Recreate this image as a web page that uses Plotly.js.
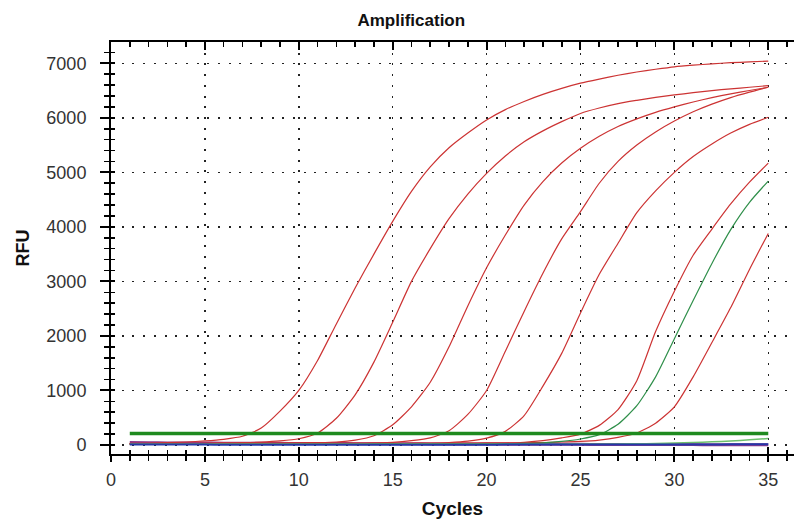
<!DOCTYPE html>
<html>
<head>
<meta charset="utf-8">
<script src="https://cdn.plot.ly/plotly-3.0.1.min.js"></script>
<style>
  html, body { margin: 0; padding: 0; background: #fff; }
  #chart { width: 794px; height: 524px; }
</style>
</head>
<body>
<div id="chart"></div>
<script>
// ---- Data (RFU) ----
var cycles = [1,2,3,4,5,6,7,8,9,10,11,12,13,14,15,16,17,18,19,20,21,22,23,24,25,26,27,28,29,30,31,32,33,34,35];

var sample1 = [30,35,42,55,75,105,160,310,620,1000,1550,2220,2880,3500,4100,4650,5100,5450,5720,5960,6150,6300,6430,6540,6635,6710,6780,6840,6890,6935,6965,6990,7010,7025,7040];
var sample2 = [25,27,29,31,34,38,44,54,75,115,220,490,920,1520,2250,3000,3600,4150,4600,4980,5300,5560,5760,5930,6080,6180,6260,6320,6375,6420,6460,6500,6530,6560,6590];
var sample3 = [20,22,24,26,28,30,32,34,37,40,45,55,90,170,370,700,1150,1800,2550,3250,3850,4400,4830,5170,5440,5660,5840,5980,6100,6200,6290,6370,6440,6500,6560];
var sample4 = [15,16,17,18,19,20,21,22,23,25,27,30,34,40,50,80,130,260,560,1000,1720,2450,3150,3780,4280,4800,5200,5500,5740,5940,6110,6250,6370,6470,6560];
var sample5 = [12,12,13,13,14,14,15,15,16,17,18,19,20,22,24,27,32,45,70,125,250,540,1080,1680,2420,3130,3700,4260,4660,5000,5290,5520,5720,5880,6010];
var sample6 = [20,20,21,21,22,22,22,23,23,24,24,25,25,26,26,27,27,28,29,30,35,50,80,130,200,360,650,1180,2080,2820,3480,3960,4420,4820,5170];
var sample7 = [25,25,26,26,27,27,28,28,29,29,30,30,31,31,32,33,34,35,36,38,39,40,45,55,65,90,140,220,400,700,1250,1880,2520,3220,3880];
var sampleGreen = [15,15,15,16,16,16,16,17,17,17,18,18,18,19,19,19,20,20,21,22,25,30,40,65,110,190,380,720,1250,1950,2650,3330,3950,4450,4840];
var ntcPurple = [45,41,39,37,36,34,33,31,30,28,27,27,25,24,23,22,20,19,19,17,16,15,14,13,12,11,11,9,8,8,7,6,5,5,4];
var ntcBlue = [8,8,7,7,7,6,6,6,6,5,5,5,5,5,5,6,6,6,6,6,7,7,7,7,8,8,8,9,9,10,10,11,12,13,14];
var ntcGreen = [12,12,12,12,12,12,12,12,12,13,13,13,13,13,14,14,14,14,14,15,15,15,16,16,17,18,20,23,28,35,45,58,75,95,120];
var thresholdRFU = 210;

var redSeries = [sample1, sample2, sample3, sample4, sample5, sample6, sample7];

// ---- Traces ----
var traces = [];
function lineTrace(y, color, width, name) {
  return { x: cycles, y: y, type: 'scatter', mode: 'lines', name: name,
           line: { color: color, width: width, shape: 'spline', smoothing: 0.6 },
           hoverinfo: 'skip', showlegend: false };
}
traces.push(lineTrace(ntcPurple, '#8e3a8e', 3, 'NTC purple'));
redSeries.forEach(function (s, i) { traces.push(lineTrace(s, '#cc3333', 1.2, 'Sample ' + (i + 1))); });
traces.push(lineTrace(sampleGreen, '#2f8f4a', 1.2, 'Sample green'));
traces.push(lineTrace(ntcGreen, '#6cbf6c', 1.5, 'NTC green'));
traces.push(lineTrace(ntcBlue, '#2438a8', 2, 'NTC blue'));
traces.push({ x: [cycles[0], cycles[cycles.length - 1]], y: [thresholdRFU, thresholdRFU],
  type: 'scatter', mode: 'lines', line: { color: '#1e8a1e', width: 3.5 }, hoverinfo: 'skip', showlegend: false, name: 'Threshold' });
// empty traces so that the overlay tick axes are drawn
traces.push({ x: [], y: [], xaxis: 'x2', yaxis: 'y', type: 'scatter', showlegend: false, hoverinfo: 'skip' });
traces.push({ x: [], y: [], xaxis: 'x3', yaxis: 'y2', type: 'scatter', showlegend: false, hoverinfo: 'skip' });

var xRange = [0, 36.37];
var yRange = [-165, 7390];
var gridDash = '2px,8.7px';

var layout = {
  width: 794, height: 524,
  margin: { l: 111, r: 0, t: 42, b: 70, pad: 0 },
  paper_bgcolor: '#ffffff', plot_bgcolor: '#ffffff',
  showlegend: false,
  font: { family: 'Liberation Sans, Arial, sans-serif', size: 18, color: '#333' },
  title: { text: 'Amplification', font: { size: 17, color: '#111', weight: 'bold' },
           xref: 'container', x: 0.518, xanchor: 'center', yref: 'container', y: 0.962, yanchor: 'middle' },
  xaxis: {
    range: xRange, tick0: 0, dtick: 5, autorange: false,
    ticks: 'outside', ticklen: 6, tickwidth: 2, tickcolor: '#000',
    minor: { dtick: 1, ticks: 'outside', ticklen: 5, tickwidth: 1.6, tickcolor: '#000', showgrid: false },
    showline: true, linecolor: '#000', linewidth: 2,
    showgrid: true, gridcolor: '#222', gridwidth: 1.5, griddash: gridDash,
    zeroline: false, automargin: false,
    tickfont: { size: 18, color: '#333' }, ticklabelstandoff: 2,
    title: { text: 'Cycles', font: { size: 19, color: '#111', weight: 'bold' }, standoff: 13 }
  },
  xaxis2: {
    overlaying: 'x', side: 'top', anchor: 'y', range: xRange, tick0: 0, dtick: 5, autorange: false,
    ticks: 'inside', ticklen: 8, tickwidth: 2, tickcolor: '#000',
    minor: { dtick: 1, ticks: 'inside', ticklen: 5, tickwidth: 1.6, tickcolor: '#000', showgrid: false },
    showline: true, linecolor: '#000', linewidth: 2,
    showticklabels: false, showgrid: false, zeroline: false, automargin: false
  },
  xaxis3: {
    overlaying: 'x', side: 'bottom', anchor: 'y', range: xRange, tick0: 0, dtick: 5, autorange: false,
    ticks: 'inside', ticklen: 7, tickwidth: 2, tickcolor: '#000',
    minor: { dtick: 1, ticks: 'inside', ticklen: 4, tickwidth: 1.6, tickcolor: '#000', showgrid: false },
    showline: false, showticklabels: false, showgrid: false, zeroline: false, automargin: false
  },
  yaxis: {
    range: yRange, tick0: 0, dtick: 1000, autorange: false,
    ticks: 'outside', ticklen: 9, tickwidth: 2, tickcolor: '#000',
    minor: { dtick: 200, ticks: 'outside', ticklen: 5, tickwidth: 1.6, tickcolor: '#000', showgrid: false },
    showline: true, linecolor: '#000', linewidth: 2,
    showgrid: true, gridcolor: '#222', gridwidth: 1.5, griddash: gridDash,
    zeroline: false, automargin: false,
    tickfont: { size: 18, color: '#333' }, ticklabelstandoff: 10,
    title: { text: 'RFU', font: { size: 18, color: '#111', weight: 'bold' }, standoff: 12 }
  },
  yaxis2: {
    overlaying: 'y', side: 'left', anchor: 'x', range: yRange, tick0: 0, dtick: 1000, autorange: false,
    ticks: 'inside', ticklen: 4, tickwidth: 2, tickcolor: '#000',
    minor: { dtick: 200, ticks: 'inside', ticklen: 4, tickwidth: 1.6, tickcolor: '#000', showgrid: false },
    showline: false, showticklabels: false, showgrid: false, zeroline: false, automargin: false
  }
};

Plotly.newPlot('chart', traces, layout, { staticPlot: true, displayModeBar: false });
</script>
</body>
</html>
